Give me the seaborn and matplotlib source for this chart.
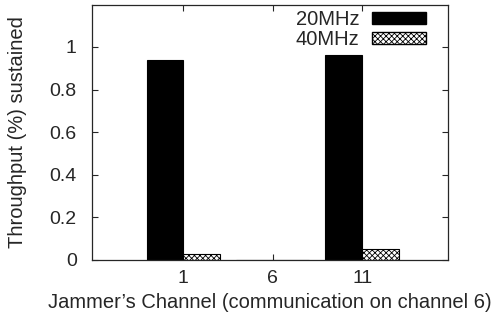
import matplotlib
matplotlib.use("Agg")
import matplotlib.pyplot as plt
import seaborn as sns
import pandas as pd
from matplotlib.patches import Patch

channels = ["1", "6", "11"]
bw_20 = [0.94, 0.0, 0.96]
bw_40 = [0.03, 0.0, 0.05]
series = ["20MHz", "40MHz"]
y_ticks = [0, 0.2, 0.4, 0.6, 0.8, 1]
y_tick_labels = ["0", "0.2", "0.4", "0.6", "0.8", "1"]

df = pd.DataFrame({
    "channel": channels * 2,
    "value": bw_20 + bw_40,
    "bw": [series[0]] * 3 + [series[1]] * 3,
})

sns.set_style("ticks")
plt.rcParams["font.family"] = ["Liberation Sans", "DejaVu Sans"]
plt.rcParams["hatch.linewidth"] = 0.6

fig = plt.figure(figsize=(4.95, 3.23), dpi=100)
ax = fig.add_axes([92 / 495, 1 - 260 / 323, 356 / 495, 255 / 323])

sns.barplot(data=df, x="channel", y="value", hue="bw", order=channels,
            hue_order=series, palette=["black", "white"], width=0.82,
            edgecolor="black", linewidth=0.8, ax=ax, legend=False)

n = len(channels)
for i, p in enumerate(ax.patches):
    if i >= n:
        p.set_hatch("xxxxxx")

ax.set_xlim(-1.02, 2.96)
ax.set_ylim(0, 1.197)
ax.set_yticks(y_ticks)
ax.set_yticklabels(y_tick_labels)
ax.tick_params(direction="in", top=True, right=True, length=4, width=0.8,
               labelsize=14)
ax.tick_params(axis="x", pad=7)
ax.tick_params(axis="y", pad=11)
for s in ax.spines.values():
    s.set_linewidth(0.9)
    s.set_visible(True)

ax.set_xlabel("Jammer\u2019s Channel (communication on channel 6)", fontsize=14.5)
ax.set_ylabel("Throughput (%) sustained", fontsize=14.5)
ax.xaxis.set_label_coords(0.5, -(302 - 260) / 255, transform=ax.transAxes)
ax.yaxis.set_label_coords(-(92 - 18) / 356, 0.5, transform=ax.transAxes)
ax.xaxis.label.set_va("center")
ax.yaxis.label.set_va("center")

handles = [Patch(facecolor="black", edgecolor="black", label=series[0]),
           Patch(facecolor="white", edgecolor="black", hatch="xxxxxx", label=series[1])]
ax.legend(handles=handles, loc="upper right", markerfirst=False, frameon=False,
          fontsize=14.5, handlelength=2.7, handleheight=0.5, handletextpad=0.6,
          borderaxespad=0.0, labelspacing=0.05, borderpad=0.1,
          bbox_to_anchor=(1 - 20 / 356, 1 - 3 / 255))

fig.savefig("out.png", dpi=100)
